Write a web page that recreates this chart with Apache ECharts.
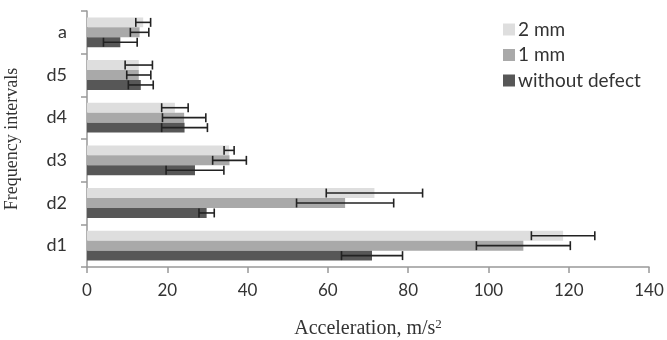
<!DOCTYPE html>
<html><head><meta charset="utf-8">
<script src="https://cdn.jsdelivr.net/npm/echarts@6/dist/echarts.min.js"></script>
<style>html,body{margin:0;padding:0;background:#fff}#c{width:667px;height:340px}</style>
</head><body><div id="c"></div>
<script>
const categories = ['d1', 'd2', 'd3', 'd4', 'd5', 'a'];
const seriesNames = ['2 mm', '1 mm', 'without defect'];
const mm2 = [118.6, 71.6, 35.4, 21.9, 12.9, 14.0];
const mm2Err = [7.9, 12.0, 1.25, 3.3, 3.4, 1.85];
const mm1 = [108.7, 64.3, 35.5, 24.2, 12.9, 13.1];
const mm1Err = [11.7, 12.1, 4.2, 5.4, 3.0, 2.3];
const noDefect = [71.0, 29.8, 26.9, 24.3, 13.4, 8.3];
const noDefectErr = [7.6, 1.9, 7.2, 5.7, 3.1, 4.2];
const xTicks = [0, 20, 40, 60, 80, 100, 120, 140];

const colors = ['#dedede', '#a9a9a9', '#575757'];
const values = [mm2, mm1, noDefect];
const errs = [mm2Err, mm1Err, noDefectErr];
const gapFrac = 0.3;

const errData = [];
values.forEach((arr, g) => {
  arr.forEach((v, i) => {
    errData.push([i, v - errs[g][i], v + errs[g][i], g]);
  });
});

function renderErr(params, api) {
  const cat = api.value(0);
  const lo = api.coord([api.value(1), cat]);
  const hi = api.coord([api.value(2), cat]);
  const band = api.size([0, 1])[1];
  const bw = band * (1 - gapFrac) / 3;
  const g = api.value(3);
  const y = lo[1] + (g - 1) * bw;
  const h = bw * 0.45;
  const st = { stroke: '#222', lineWidth: 1.6 };
  return {
    type: 'group',
    children: [
      { type: 'line', shape: { x1: lo[0], y1: y, x2: hi[0], y2: y }, style: st },
      { type: 'line', shape: { x1: lo[0], y1: y - h, x2: lo[0], y2: y + h }, style: st },
      { type: 'line', shape: { x1: hi[0], y1: y - h, x2: hi[0], y2: y + h }, style: st }
    ]
  };
}

const labelFont = 'Lato';
const chart = echarts.init(document.getElementById('c'), null, { renderer: 'canvas' });
chart.setOption({
  animation: false,
  backgroundColor: '#fff',
  grid: { left: 87, right: 18, top: 11, bottom: 73, containLabel: false, outerBoundsMode: 'none' },
  legend: {
    data: seriesNames,
    orient: 'vertical',
    left: 498, top: 15,
    icon: 'rect', itemWidth: 12, itemHeight: 12, itemGap: 6.5,
    textStyle: { fontFamily: labelFont, fontSize: 19, color: '#333', padding: [0, 0, 0, -2] }
  },
  xAxis: {
    type: 'value', min: 0, max: 140, interval: 20,
    name: 'Acceleration, m/s{sup|2}', nameLocation: 'middle', nameGap: 51,
    nameTextStyle: { fontFamily: 'Liberation Serif', fontSize: 20, color: '#333',
      rich: { sup: { fontFamily: 'Liberation Serif', fontSize: 13, color: '#333', verticalAlign: 'top', padding: [0, 0, 9, 0] } } },
    axisLine: { show: true, lineStyle: { color: '#999', width: 1.5 } },
    axisTick: { show: true, length: 6, lineStyle: { color: '#999', width: 1.5 } },
    axisLabel: { fontFamily: labelFont, fontSize: 17, color: '#333', margin: 15,
      formatter: v => xTicks.includes(v) ? String(v) : '' },
    splitLine: { show: false }
  },
  yAxis: {
    type: 'category', data: categories,
    name: 'Frequency intervals', nameLocation: 'middle', nameGap: 66, nameRotate: 90,
    nameTextStyle: { fontFamily: 'Liberation Serif', fontSize: 18, color: '#333' },
    axisLine: { show: true, lineStyle: { color: '#999', width: 1.5 } },
    axisTick: { show: true, length: 6, lineStyle: { color: '#999', width: 1.5 } },
    axisLabel: { fontFamily: labelFont, fontSize: 18, color: '#333', margin: 20 }
  },
  series: [
    ...seriesNames.map((n, g) => ({
      name: n, type: 'bar', data: values[g],
      itemStyle: { color: colors[g] },
      barGap: '0%', barCategoryGap: (gapFrac * 100) + '%'
    })),
    {
      type: 'custom', renderItem: renderErr, data: errData, z: 5,
      encode: { x: [1, 2], y: 0 }, silent: true
    }
  ]
});
</script></body></html>
